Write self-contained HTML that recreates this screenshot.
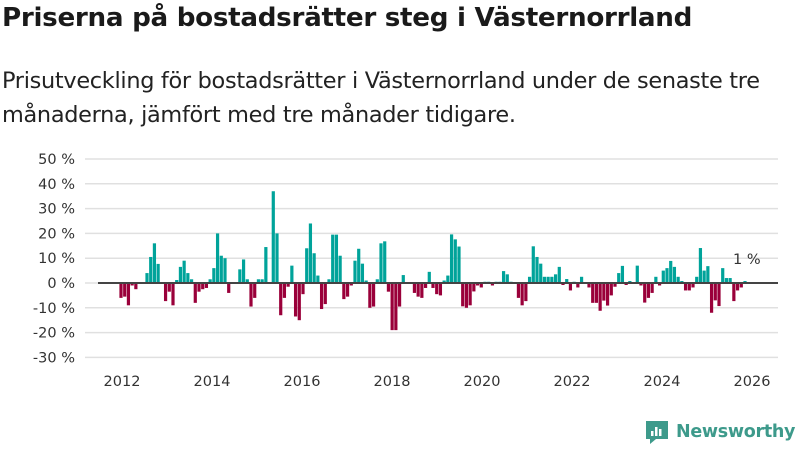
<!DOCTYPE html>
<html><head><meta charset="utf-8"><style>
body{margin:0;width:800px;height:450px;background:#fff;font-family:"Liberation Sans","DejaVu Sans",sans-serif;overflow:hidden;position:relative}
h1{position:absolute;left:2px;top:3px;margin:0;font-size:26.2px;font-weight:bold;color:#1a1a1a;font-family:"DejaVu Sans",sans-serif;letter-spacing:-0.3px}
p{position:absolute;left:2px;top:64px;margin:0;font-size:22.4px;line-height:34px;color:#222;font-family:"DejaVu Sans",sans-serif;letter-spacing:-0.3px}
svg{position:absolute;left:0;top:0}
text{font-family:"DejaVu Sans",sans-serif;font-size:14.5px;fill:#333}
</style></head><body>
<h1>Priserna på bostadsrätter steg i Västernorrland</h1>
<p>Prisutveckling för bostadsrätter i Västernorrland under de senaste tre<br>månaderna, jämfört med tre månader tidigare.</p>
<svg id="chart" width="800" height="450"></svg>
<div style="position:absolute;left:644px;top:419px;display:flex;align-items:center;">
<svg width="26" height="26" style="position:static"><path d="M2 2h22v18h-12l-6 5v-5h-4z" fill="#3d9a8b"/><rect x="7" y="12" width="2.5" height="5" fill="#fff"/><rect x="11" y="8" width="2.5" height="9" fill="#fff"/><rect x="15" y="10" width="2.5" height="7" fill="#fff"/></svg>
<span style="font-family:'DejaVu Sans',sans-serif;font-size:17.5px;font-weight:bold;color:#3d9a8b;margin-left:6px;letter-spacing:-0.3px">Newsworthy</span></div>
<script>
const values=[-6,-5.5,-9,-1,-2.5,0,0,4,10.5,16,7.7,0,-7.3,-3.5,-9,1.2,6.5,9,4,1.5,-8,-3.5,-2.5,-2,1.5,6,20,11,10,-4,0,0,5.5,9.5,1.5,-9.5,-6,1.5,1.5,14.5,0,37,20,
-13,-6,-1.5,7,-13.5,-15,-4.5,14,24,12,3,-10.5,-8.5,1.5,19.5,19.5,11,-6.5,-5.5,-1,9,13.8,7.8,1,-10,-9.5,1.5,16,16.8,-3.5,-19,-19,-9.5,3.2,0,0,-4,-5.5,-6,-2,4.5,-2,-4.5,-5,1,3,
19.6,17.6,14.7,-9.4,-10,-9,-3.4,-1,-1.8,0.5,0.5,-1,0.5,0.5,4.8,3.5,0.5,0,-6,-9,-7.3,2.5,14.8,10.5,7.8,2.5,2.5,2.5,3.5,6.5,-0.8,1.6,-3,0.5,-1.8,2.5,0,-1.8,-8,-8,
-11.2,-7.1,-9.1,-5,-1.5,4,6.9,-0.8,0.8,0,7,-1,-7.9,-6,-4,2.5,-1,5,6,8.9,6.5,2.5,0.8,-3,-3,-1.8,2.5,14.1,5,6.8,-12,-7,-9.3,6,2,2,-7.3,-3,-1.8,0.8];
const yTicks=[50,40,30,20,10,0,-10,-20,-30];
const xTicks=[2012,2014,2016,2018,2020,2022,2024,2026];
const lastLabel="1 %";
const NS="http://www.w3.org/2000/svg";
const svg=document.getElementById('chart');
const y=v=>283-v*2.48;
const xYear=yr=>122+(yr-2012)*45;
const xBar=i=>121+i*(624/(values.length-1));
function mk(t,a){const e=document.createElementNS(NS,t);for(const k in a)e.setAttribute(k,a[k]);svg.appendChild(e);return e;}
yTicks.forEach(t=>{
 const g=mk('line',{x1:85,x2:778,y1:y(t),y2:y(t),stroke:'#e0e0e0','stroke-width':1.5});
 
 
 const l=mk('text',{x:75,y:y(t)+5,'text-anchor':'end'});l.textContent=t+' %';
 
 
});
values.forEach((v,i)=>{
 const r=mk('rect',{x:xBar(i)-1.6,width:3.2,y:Math.min(y(v),y(0)),height:Math.abs(y(v)-y(0)),fill:v>=0?'#00a39a':'#9a003a'});
 
 
});
const z=mk('line',{x1:98,x2:778,y1:y(0),y2:y(0),stroke:'#444','stroke-width':2});


xTicks.forEach(t=>{
 const l=mk('text',{x:xYear(t),y:386,'text-anchor':'middle'});l.textContent=t;
 
 
});
const lb=mk('text',{x:xBar(values.length-1)-12,y:264,'font-size':'14'});lb.textContent=lastLabel;


</script>
</body></html>
